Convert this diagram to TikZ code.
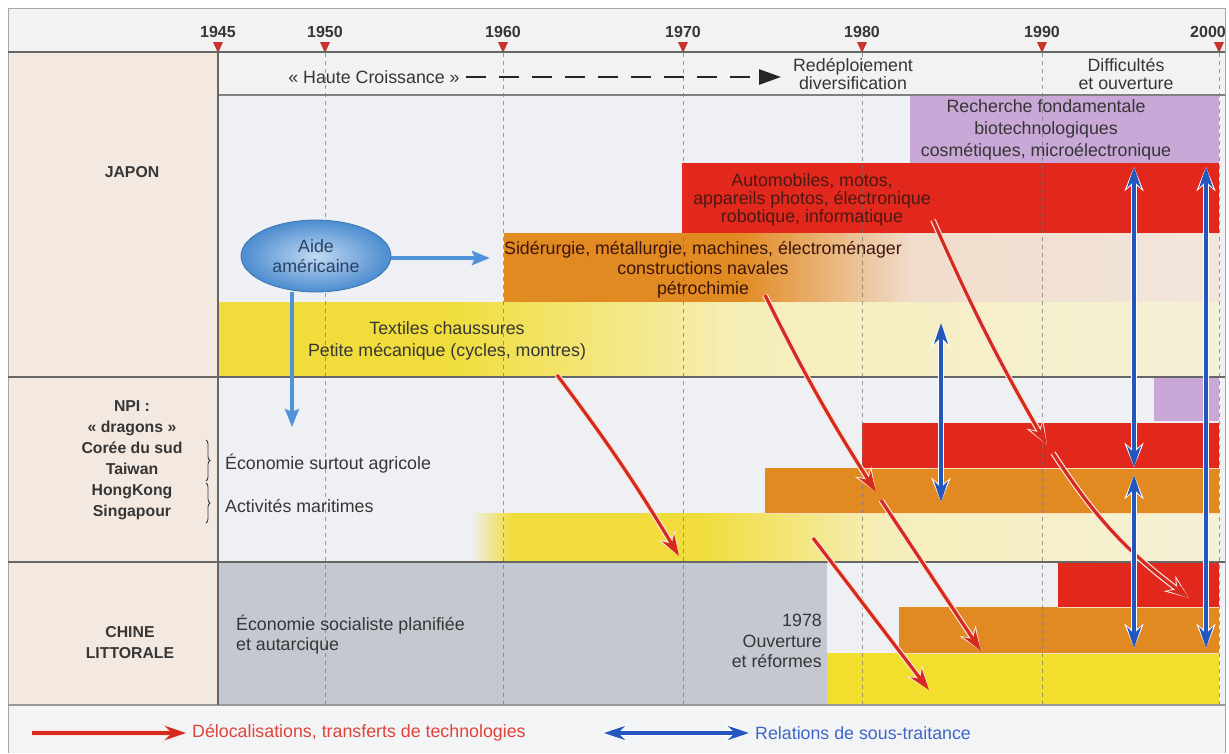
\documentclass[tikz,border=0pt]{standalone}
\usepackage{fontspec}
\setmainfont{Liberation Sans}
\usetikzlibrary{arrows.meta,shapes.geometric,decorations.pathreplacing}
\definecolor{bgmain}{HTML}{EEF0F3}
\definecolor{bgleft}{HTML}{F3E9E1}
\definecolor{bghead}{HTML}{F2F2F2}
\definecolor{bglegend}{HTML}{F3F4F6}
\definecolor{txt}{HTML}{363636}
\definecolor{redtxt}{HTML}{4A1A12}
\definecolor{aidetxt}{HTML}{2B4266}
\definecolor{jred}{HTML}{E2271C}
\definecolor{jorange}{HTML}{E28A22}
\definecolor{palor}{HTML}{F0DCCB}
\definecolor{palor2}{HTML}{F2E6DC}
\definecolor{jyellow}{HTML}{F0DD3C}
\definecolor{palyel}{HTML}{F6EEB8}
\definecolor{palyel2}{HTML}{F5F1D8}
\definecolor{cyellow}{HTML}{F2DE2C}
\definecolor{purp}{HTML}{C9A7D7}
\definecolor{cgray}{HTML}{C3C8D1}
\definecolor{arrred}{HTML}{D62A1F}
\definecolor{arrout}{HTML}{FBE3DA}
\definecolor{arrblue}{HTML}{2457BD}
\definecolor{ltblue}{HTML}{4F93DA}
\definecolor{yrred}{HTML}{C8342C}
\definecolor{legred}{HTML}{E0433A}
\definecolor{legblue}{HTML}{3E66C8}
\definecolor{linegray}{HTML}{666666}
\begin{document}
\begin{tikzpicture}[x=1pt,y=-1pt,
  lbl/.style={font=\fontsize{17.8}{22}\selectfont, text=txt, align=center, inner sep=0pt},
  yrlbl/.style={font=\bfseries\fontsize{16}{18}\selectfont, text=txt, inner sep=0pt},
  ctry/.style={font=\bfseries\fontsize{15.8}{21}\selectfont, text=txt, align=center, inner sep=0pt},
  yrline/.style={draw=black!55, line width=0.9pt, dash pattern=on 4pt off 4pt, opacity=0.7},
  redarr/.style={draw=arrred, line width=3.2pt, -{Stealth[length=21pt,width=14pt]},
     preaction={draw=arrout, line width=5.6pt, -{Stealth[length=24pt,width=19pt]}}},
  bluearr/.style={draw=arrblue, line width=3.8pt, {Stealth[length=21pt,width=14pt]}-{Stealth[length=21pt,width=14pt]},
     preaction={draw=white, line width=6pt, {Stealth[length=24pt,width=19pt]}-{Stealth[length=24pt,width=19pt]}}},
  aidearr/.style={draw=ltblue, line width=4pt, -{Stealth[length=18pt,width=14pt,inset=3pt]}},
  phasearr/.style={draw=black!85, line width=2.8pt, dash pattern=on 20pt off 13pt, -{Triangle[length=22pt,width=15pt]}},
  brc/.style={decorate, decoration={brace, amplitude=4pt}, draw=txt, line width=0.9pt}
]
\useasboundingbox (0,0) rectangle (1229,753);
\fill[white] (0,0) rectangle (1229,753);
% backgrounds
\fill[bghead] (8,8) rectangle (1225,52);
\fill[bgleft] (8,52) rectangle (218,705);
\fill[bgmain] (218,52) rectangle (1225,705);
\fill[bghead] (218,52) rectangle (1225,95);
\fill[bglegend] (8,705) rectangle (1225,753);
% Japan bars
\fill[purp] (910,95) rectangle (1219,163);
\fill[jred] (682,163) rectangle (1219,233);
\fill[jorange] (504,233) rectangle (741,302);
\shade[left color=jorange, right color=palor] (740,233) rectangle (911,302);
\shade[left color=palor, right color=palor2] (910,233) rectangle (1219,302);
\fill[jyellow] (218,302) rectangle (451,377);
\shade[left color=jyellow, right color=palyel] (450,302) rectangle (741,377);
\shade[left color=palyel, right color=palyel2] (740,302) rectangle (1219,377);
% NPI bars
\fill[purp] (1154,377) rectangle (1219,421);
\fill[jred] (862,423) rectangle (1219,468);
\fill[jorange] (765,468) rectangle (1219,513);
\shade[left color=bgmain, right color=jyellow] (470,513) rectangle (511,562);
\fill[jyellow] (510,513) rectangle (701,562);
\shade[left color=jyellow, right color=palyel] (700,513) rectangle (881,562);
\shade[left color=palyel, right color=palyel2] (880,513) rectangle (1219,562);
% Chine bars
\fill[cgray] (218,562) rectangle (827,705);
\fill[jred] (1058,562) rectangle (1219,607);
\fill[jorange] (899,607) rectangle (1219,653);
\fill[cyellow] (827,653) rectangle (1219,705);
\draw[white!75!orange, line width=0.8pt] (862,468) -- (1219,468) (765,513) -- (1219,513) (1058,607) -- (1219,607) (899,653) -- (1219,653);
% year dashed lines and labels
\foreach \x in {325,503,683,862,1042,1219} { \draw[yrline] (\x,53) -- (\x,705); }
\foreach \x/\yr/\lx in {218/1945/218, 325/1950/325, 503/1960/503, 683/1970/683, 862/1980/862, 1042/1990/1042, 1219/2000/1208} {
  \node[yrlbl] (yr\yr) at (\lx,32) {\yr};
  \fill[yrred] (\x-5,42) -- (\x+5,42) -- (\x,53) -- cycle;
}
% frame and separators
\draw[black!35, line width=1pt] (8,753) -- (8,8) -- (1225,8) -- (1225,753);
\draw[linegray, line width=2pt] (8,52) -- (1225,52);
\draw[black!50, line width=1.2pt] (218,95) -- (1225,95);
\draw[linegray, line width=1.5pt] (8,377) -- (1225,377);
\draw[linegray, line width=1.5pt] (8,562) -- (1225,562);
\draw[black!40, line width=1.2pt] (8,705) -- (1225,705);
\draw[linegray, line width=1.6pt] (218,52) -- (218,705);
% phase header
\node[lbl] (haute) at (374,77) {« Haute Croissance »};
\node[lbl, font=\fontsize{17.8}{18}\selectfont] (redep) at (853,74) {Redéploiement\\diversification};
\node[lbl, font=\fontsize{17.8}{18}\selectfont] (diff) at (1126,74) {Difficultés\\et ouverture};
\coordinate (hcend) at (781,77);
\draw[phasearr] ([xshift=6pt]haute.east) -- (hcend);
% bar texts
\node[lbl] (rech) at (1046,130) {Recherche fondamentale\\biotechnologiques\\cosmétiques, microélectronique};
\node[lbl, text=redtxt, font=\fontsize{17.8}{18}\selectfont] (auto) at (812,200) {Automobiles, motos,\\appareils photos, électronique\\robotique, informatique};
\node[lbl, text=redtxt!80!black, font=\fontsize{17.8}{20}\selectfont] (side) at (703,270) {Sidérurgie, métallurgie, machines, électroménager\\constructions navales\\pétrochimie};
\node[lbl] (text) at (447,341) {Textiles chaussures\\Petite mécanique (cycles, montres)};
% left column labels
\node[ctry] (japon) at (132,172) {JAPON};
\node[ctry] (npi) at (132,460) {NPI :\\« dragons »\\Corée du sud\\Taiwan\\HongKong\\Singapour};
\node[ctry] (chine) at (130,643) {CHINE\\LITTORALE};
\draw[brc] (206,440) -- (206,481);
\draw[brc] (206,483) -- (206,523);
\node[lbl, anchor=west] (agri) at (225,464) {Économie surtout agricole};
\node[lbl, anchor=west] (mari) at (225,506) {Activités maritimes};
\node[lbl, align=left, anchor=west, font=\fontsize{17.8}{20}\selectfont] (soc) at (236,635) {Économie socialiste planifiée\\et autarcique};
\node[lbl, align=right, anchor=east, font=\fontsize{17.8}{20.5}\selectfont] (ouv) at (822,641) {1978\\Ouverture\\et réformes};
% Aide americaine
\node[ellipse, minimum width=150pt, minimum height=72pt, inner sep=0pt, inner color=ltblue!35, outer color=ltblue!95!black, draw=ltblue!80!black, line width=0.8pt, font=\fontsize{17.8}{20}\selectfont, text=aidetxt, align=center] (aide) at (316,256) {Aide\\américaine};
\coordinate (sidtip) at (490,258);
\coordinate (npitip) at (292,427);
\draw[aidearr] (aide.east |- sidtip) -- (sidtip);
\draw[aidearr] (aide.south -| npitip) -- (npitip);
% red arrows (delocalisations)
\coordinate (a1s) at (557,375); \coordinate (a1e) at (679,556);
\coordinate (a2s) at (765,295); \coordinate (a2e) at (876,492);
\coordinate (a5s) at (881,500); \coordinate (a5e) at (981,651);
\coordinate (a3s) at (933,220); \coordinate (a3e) at (1047,445);
\coordinate (a6s) at (1053,453); \coordinate (a6e) at (1189,598);
\coordinate (a4s) at (813,538); \coordinate (a4e) at (929,690);
\draw[redarr] (a1s) to[bend left=3] (a1e);
\draw[redarr] (a2s) to[bend right=3] (a2e);
\draw[redarr] (a5s) -- (a5e);
\draw[redarr] (a3s) to[bend right=3] (a3e);
\draw[redarr] (a6s) to[bend right=10] (a6e);
\draw[redarr] (a4s) -- (a4e);
% blue arrows (sous-traitance)
\coordinate (b1s) at (941,323); \coordinate (b1e) at (941,502);
\coordinate (b2s) at (1134,167); \coordinate (b2e) at (1134,467);
\coordinate (b3s) at (1134,475); \coordinate (b3e) at (1134,648);
\coordinate (b4s) at (1206,167); \coordinate (b4e) at (1206,648);
\draw[bluearr] (b1s) -- (b1e);
\draw[bluearr] (b2s) -- (b2e);
\draw[bluearr] (b3s) -- (b3e);
\draw[bluearr] (b4s) -- (b4e);
% legend
\node[lbl, anchor=west, text=legred] (legr) at (192,733) {Délocalisations, transferts de technologies};
\node[lbl, anchor=west, text=legblue] (legb) at (755,733) {Relations de sous-traitance};
\coordinate (lr1) at (32,733);
\coordinate (lb1) at (604,733);
\draw[redarr, shorten >=6pt] (lr1) -- (legr.west);
\draw[bluearr, shorten >=6pt] (lb1) -- (legb.west);
\end{tikzpicture}
\end{document}
